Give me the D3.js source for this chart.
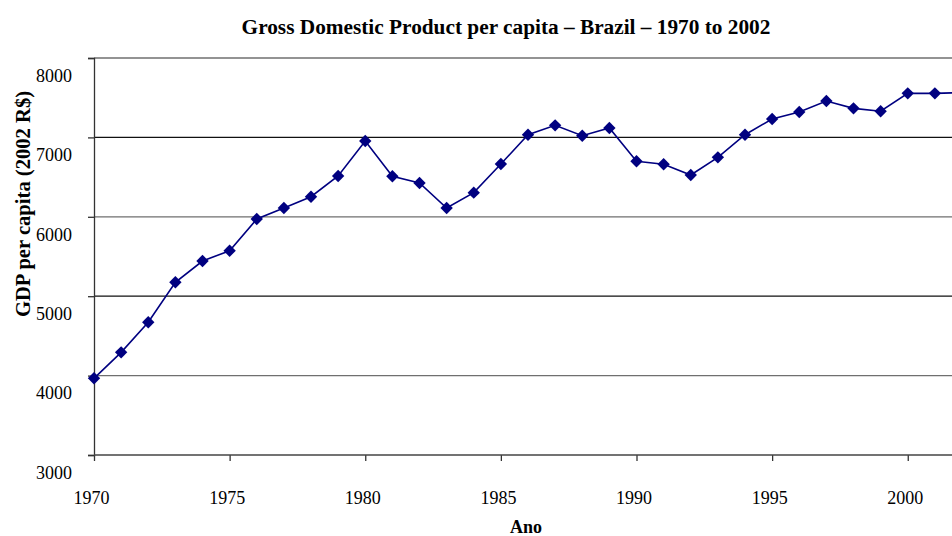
<!DOCTYPE html>
<html>
<head>
<meta charset="utf-8">
<script src="https://cdn.jsdelivr.net/npm/d3@7"></script>
<style>
  html, body { margin: 0; padding: 0; background: #fff; }
  svg { display: block; overflow: hidden; }
  text { font-family: "Liberation Serif", "Times New Roman", serif; fill: #000; }
</style>
</head>
<body>
<svg id="chart" width="952" height="536"></svg>
<script>
const years = [1970,1971,1972,1973,1974,1975,1976,1977,1978,1979,1980,1981,1982,1983,1984,1985,1986,1987,1988,1989,1990,1991,1992,1993,1994,1995,1996,1997,1998,1999,2000,2001,2002];
const gdpPerCapita = [3966,4293,4671,5175,5443,5573,5972,6111,6253,6514,6955,6510,6426,6111,6304,6665,7034,7152,7021,7118,6699,6661,6526,6749,7034,7232,7320,7458,7366,7329,7555,7555,7565];
const yTicks = [3000,4000,5000,6000,7000,8000];
const xTicks = [1970,1975,1980,1985,1990,1995,2000];
const title = "Gross Domestic Product per capita \u2013 Brazil \u2013 1970 to 2002";
const yLabel = "GDP per capita (2002 R$)";
const xLabel = "Ano";

const svg = d3.select("#chart");
const mLeft = 94, mRight = 962, mTop = 58, mBottom = 455;

const x = d3.scaleLinear().domain([1970, 2002]).range([mLeft, mRight]);
const y = d3.scaleLinear().domain([3000, 8000]).range([mBottom, mTop]);

// gridlines
svg.append("g").selectAll("line")
  .data(yTicks.filter(v => v > 3000))
  .join("line")
  .attr("x1", mLeft).attr("x2", 952)
  .attr("y1", d => y(d)).attr("y2", d => y(d))
  .attr("stroke", (d, i) => i % 2 === 0 ? "#6f6f6f" : "#111")
  .attr("stroke-width", 1.3);

// y axis
const yAxis = svg.append("g")
  .attr("transform", `translate(${mLeft},0)`)
  .call(d3.axisLeft(y).tickValues(yTicks).tickSize(6).tickPadding(16).tickFormat(d3.format("d")));
yAxis.select(".domain").attr("stroke", "#333").attr("stroke-width", 1.3);
yAxis.selectAll(".tick line").attr("stroke", "#333").attr("stroke-width", 1.3);
yAxis.selectAll(".tick text")
  .attr("font-family", "Liberation Serif, serif")
  .attr("font-size", 18)
  .attr("dy", "1.3em")
  .attr("fill", "#000");

// x axis
const xAxis = svg.append("g")
  .attr("transform", `translate(0,${mBottom})`)
  .call(d3.axisBottom(x).tickValues(xTicks).tickSize(6).tickPadding(30).tickFormat(d3.format("d")));
xAxis.select(".domain").remove();
xAxis.append("line").attr("x1", mLeft).attr("x2", 952).attr("y1", 0).attr("y2", 0)
  .attr("stroke", "#444").attr("stroke-width", 1.3);
xAxis.selectAll(".tick line").attr("stroke", "#333").attr("stroke-width", 1.3);
xAxis.selectAll(".tick text")
  .attr("font-family", "Liberation Serif, serif")
  .attr("font-size", 18)
  .attr("dx", -3)
  .attr("fill", "#000");

// line
const pts = years.map((yr, i) => [yr, gdpPerCapita[i]]);
svg.append("path")
  .datum(pts)
  .attr("fill", "none")
  .attr("stroke", "#000080")
  .attr("stroke-width", 1.6)
  .attr("d", d3.line().x(d => x(d[0])).y(d => y(d[1])));

// markers
const diamond = d3.symbol().type(d3.symbolDiamond2).size(98);
svg.append("g").selectAll("path")
  .data(pts.filter(d => d[0] <= 2001))
  .join("path")
  .attr("transform", d => `translate(${x(d[0])},${y(d[1])})`)
  .attr("d", diamond)
  .attr("fill", "#000080");

// title
svg.append("text")
  .attr("x", 506).attr("y", 34)
  .attr("text-anchor", "middle")
  .attr("font-size", 21.3).attr("font-weight", "bold")
  .text(title);

// y label
svg.append("text")
  .attr("transform", "translate(30,204) rotate(-90)")
  .attr("text-anchor", "middle")
  .attr("font-size", 20.6).attr("font-weight", "bold")
  .text(yLabel);

// x label
svg.append("text")
  .attr("x", 526).attr("y", 533)
  .attr("text-anchor", "middle")
  .attr("font-size", 18).attr("font-weight", "bold")
  .text(xLabel);
</script>
</body>
</html>
